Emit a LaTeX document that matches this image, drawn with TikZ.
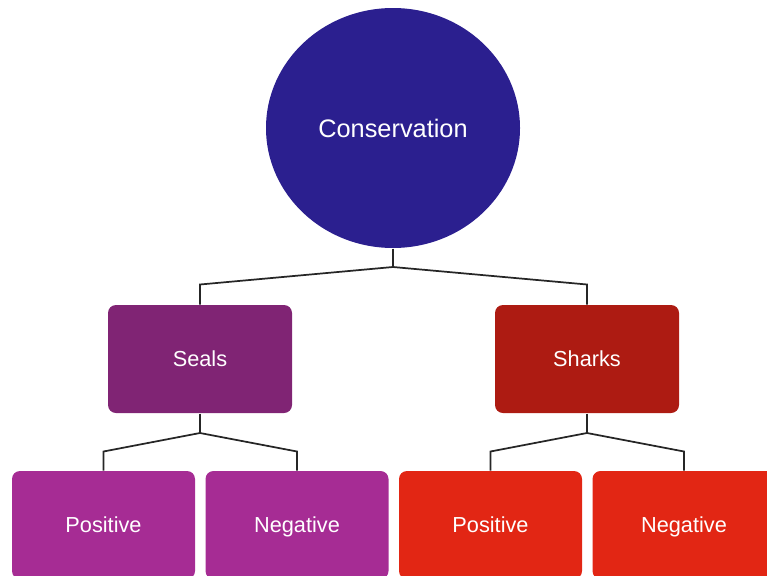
\documentclass[tikz,border=0pt]{standalone}
\usepackage{fontspec}
\setmainfont{Liberation Sans}
\usetikzlibrary{shapes.geometric}

\definecolor{consblue}{RGB}{43,31,143}
\definecolor{sealpurple}{RGB}{128,36,116}
\definecolor{sharkred}{RGB}{173,27,18}
\definecolor{leafpurple}{RGB}{166,44,148}
\definecolor{leafred}{RGB}{226,38,20}

\tikzset{every picture/.style={line width=0.75pt}}
\tikzset{
  topic/.style={ellipse,fill=consblue,text=white,inner sep=0,minimum width=190.5pt,minimum height=180pt,font=\fontsize{19}{22}\selectfont},
  group/.style={rounded corners=6pt,text=white,inner sep=0,minimum width=138pt,minimum height=81pt,text height=12.5pt,text depth=0.8pt,font=\fontsize{16.3}{19}\selectfont},
  leaf/.style={rounded corners=6pt,text=white,inner sep=0,minimum width=137.25pt,minimum height=81pt,text height=12.5pt,text depth=0.8pt,font=\fontsize{16.3}{19}\selectfont},
  link/.style={draw=black!85,line width=1.3pt}
}

\begin{document}
\begin{tikzpicture}[x=0.75pt,y=0.75pt,yscale=-1,xscale=1]
\clip (0,0) rectangle (767,575); %page is 767 x 575

% Root
\node[topic] (cons) at (393,128) {Conservation};

% Groups
\node[group,fill=sealpurple] (seals) at (200,359) {Seals};
\node[group,fill=sharkred] (sharks) at (587,359) {Sharks};

% Leaves
\node[leaf,fill=leafpurple] (sealpos) at (103.5,525) {Positive};
\node[leaf,fill=leafpurple] (sealneg) at (297,525) {Negative};
\node[leaf,fill=leafred] (sharkpos) at (490.5,525) {Positive};
\node[leaf,fill=leafred] (sharkneg) at (684,525) {Negative};

% Branch points
\coordinate (j0) at (393,267);
\coordinate (j1) at (200,433);
\coordinate (j2) at (587,433);

% Connectors
\draw[link] (cons.south) -- (j0);
\draw[link] (seals.north) -- ++(0,-20) -- (j0);
\draw[link] (sharks.north) -- ++(0,-20) -- (j0);

\draw[link] (seals.south) -- (j1);
\draw[link] (sealpos.north) -- ++(0,-19) -- (j1);
\draw[link] (sealneg.north) -- ++(0,-19) -- (j1);

\draw[link] (sharks.south) -- (j2);
\draw[link] (sharkpos.north) -- ++(0,-19) -- (j2);
\draw[link] (sharkneg.north) -- ++(0,-19) -- (j2);

\end{tikzpicture}
\end{document}
